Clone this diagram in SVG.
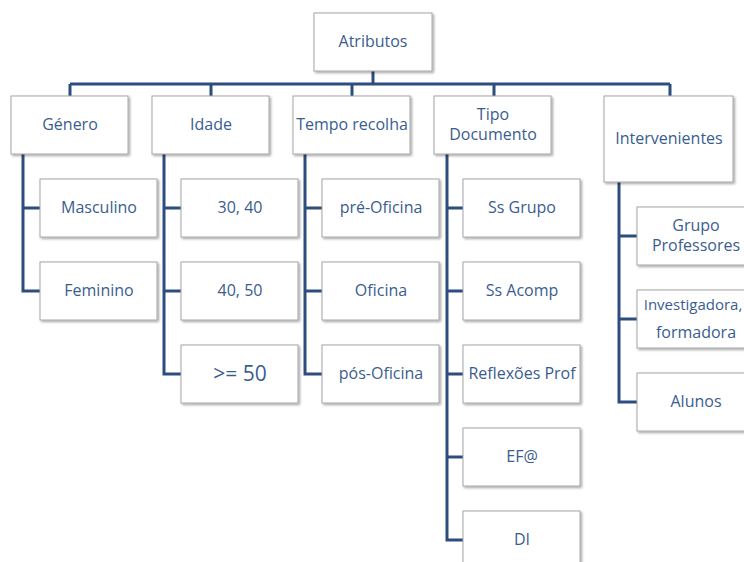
<svg xmlns="http://www.w3.org/2000/svg" width="744" height="562" viewBox="0 0 744 562">
<defs>
<filter id="sh" x="-10%" y="-10%" width="130%" height="130%">
<feDropShadow dx="1.5" dy="1.5" stdDeviation="1" flood-color="#000" flood-opacity="0.35"/>
</filter>
</defs>
<style>
.b{fill:#fff;stroke:#a6a6a6;stroke-width:1;filter:url(#sh)}
.t{font-family:"Open Sans",Lato,sans-serif;font-size:16px;fill:#3a5d8f;text-anchor:middle;dominant-baseline:central}
.c{fill:none;stroke:#2c4d7e;stroke-width:3}
</style>
<rect width="744" height="562" fill="#fff"/>
<g id="connectors" class="c">
<path d="M373 71V84M70 84H670M70 84V96M211 84V96M352 84V96M494 84V96M670 84V96"/>
<path d="M23 154V291H40M23 208H40"/>
<path d="M164 154V374H181M164 208H181M164 291H181"/>
<path d="M305 154V374H322M305 208H322M305 291H322"/>
<path d="M447 154V540H463M447 208H463M447 291H463M447 374H463M447 457H463"/>
<path d="M619 182V402H637M619 236H637M619 319H637"/>
</g>
<g id="n-atributos"><rect class="b" x="314" y="13" width="118" height="58"/><text class="t" x="373" y="41">Atributos</text></g>
<g id="n-genero"><rect class="b" x="11" y="96" width="117" height="58"/><text class="t" x="70" y="124">Género</text></g>
<g id="n-idade"><rect class="b" x="152" y="96" width="117" height="58"/><text class="t" x="211" y="124">Idade</text></g>
<g id="n-tempo"><rect class="b" x="293" y="96" width="117" height="58"/><text class="t" x="352" y="124">Tempo recolha</text></g>
<g id="n-tipo"><rect class="b" x="434" y="96" width="117" height="58"/><text class="t" x="493" y="114">Tipo</text><text class="t" x="493" y="134">Documento</text></g>
<g id="n-interv"><rect class="b" x="604" y="96" width="129" height="86"/><text class="t" x="669" y="138">Intervenientes</text></g>
<g id="n-masc"><rect class="b" x="40" y="179" width="117" height="58"/><text class="t" x="99" y="207">Masculino</text></g>
<g id="n-fem"><rect class="b" x="40" y="262" width="117" height="58"/><text class="t" x="99" y="290">Feminino</text></g>
<g id="n-3040"><rect class="b" x="181" y="179" width="117" height="58"/><text class="t" x="240" y="207">30, 40</text></g>
<g id="n-4050"><rect class="b" x="181" y="262" width="117" height="58"/><text class="t" x="240" y="290">40, 50</text></g>
<g id="n-50"><rect class="b" x="181" y="345" width="117" height="58"/><text class="t" x="240" y="373" style="font-size:21px">&gt;= 50</text></g>
<g id="n-pre"><rect class="b" x="322" y="179" width="117" height="58"/><text class="t" x="381" y="207">pré-Oficina</text></g>
<g id="n-ofi"><rect class="b" x="322" y="262" width="117" height="58"/><text class="t" x="381" y="290">Oficina</text></g>
<g id="n-pos"><rect class="b" x="322" y="345" width="117" height="58"/><text class="t" x="381" y="373">pós-Oficina</text></g>
<g id="n-ssg"><rect class="b" x="463" y="179" width="117" height="58"/><text class="t" x="522" y="207">Ss Grupo</text></g>
<g id="n-ssa"><rect class="b" x="463" y="262" width="117" height="58"/><text class="t" x="522" y="290">Ss Acomp</text></g>
<g id="n-refl"><rect class="b" x="463" y="345" width="117" height="58"/><text class="t" x="522" y="373">Reflexões Prof</text></g>
<g id="n-ef"><rect class="b" x="463" y="428" width="117" height="58"/><text class="t" x="522" y="456">EF@</text></g>
<g id="n-di"><rect class="b" x="463" y="511" width="117" height="58"/><text class="t" x="522" y="539">DI</text></g>
<g id="n-grupo"><rect class="b" x="637" y="207" width="117" height="58"/><text class="t" x="696" y="225">Grupo</text><text class="t" x="696" y="245">Professores</text></g>
<g id="n-invest"><rect class="b" x="637" y="290" width="117" height="58"/><text class="t" x="693" y="304" style="font-size:15px">Investigadora,</text><text class="t" x="696" y="332">formadora</text></g>
<g id="n-alunos"><rect class="b" x="637" y="373" width="117" height="58"/><text class="t" x="696" y="401">Alunos</text></g>
</svg>
